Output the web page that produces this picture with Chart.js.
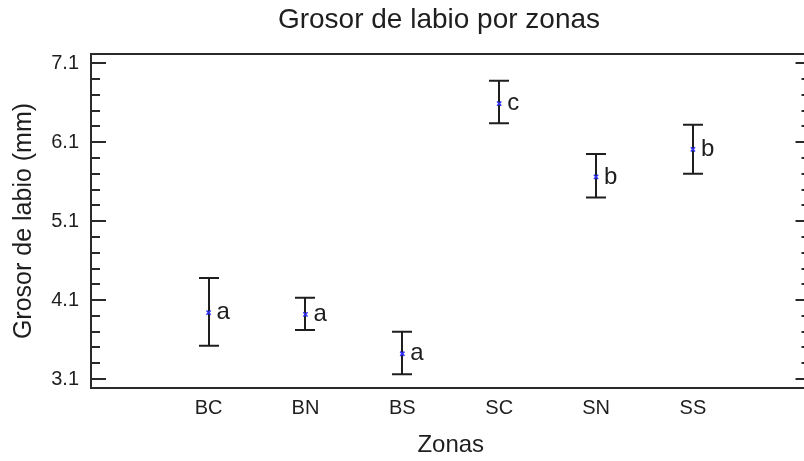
<!DOCTYPE html>
<html>
<head>
<meta charset="utf-8">
<title>Grosor de labio por zonas</title>
<script src="https://cdn.jsdelivr.net/npm/chart.js@4.4.1/dist/chart.umd.min.js"></script>
<style>
  html, body { margin: 0; padding: 0; background: #fff; overflow: hidden; }
  #wrap { width: 804px; height: 461px; overflow: hidden; }
</style>
</head>
<body>
<div id="wrap"><canvas id="chart" width="816" height="461"></canvas></div>
<script>
// Grosor de labio: media e intervalo por zona
const zonas = ['BC', 'BN', 'BS', 'SC', 'SN', 'SS'];
const medias = [3.94, 3.92, 3.42, 6.59, 5.66, 6.01];
const limInf = [3.52, 3.72, 3.16, 6.34, 5.40, 5.70];
const limSup = [4.38, 4.13, 3.70, 6.88, 5.95, 6.32];
const grupos = ['a', 'a', 'a', 'c', 'b', 'b'];
const yTicks = [3.1, 4.1, 5.1, 6.1, 7.1];

const FONT = 'Arial, "Liberation Sans", sans-serif';
const INK = '#1e1e1e';

// title drawn by hand so it can sit where the original has it
const titlePlugin = {
    id: 'tituloManual',
    afterDraw(chart) {
        const ctx = chart.ctx;
        ctx.save();
        ctx.font = '28px ' + FONT;
        ctx.fillStyle = INK;
        ctx.textAlign = 'center';
        ctx.textBaseline = 'alphabetic';
        ctx.fillText('Grosor de labio por zonas', 439, 28);
        ctx.restore();
    }
};

const errorBars = {
    id: 'barrasError',
    beforeDatasetsDraw(chart) {
        const { ctx, scales: { x, y } } = chart;
        ctx.save();
        ctx.strokeStyle = INK;
        ctx.lineWidth = 2;
        zonas.forEach((z, i) => {
            const px = Math.round(x.getPixelForValue(i + 1));
            const top = y.getPixelForValue(limSup[i]);
            const bot = y.getPixelForValue(limInf[i]);
            ctx.beginPath();
            ctx.moveTo(px, top);
            ctx.lineTo(px, bot);
            ctx.moveTo(px - 10, top);
            ctx.lineTo(px + 10, top);
            ctx.moveTo(px - 10, bot);
            ctx.lineTo(px + 10, bot);
            ctx.stroke();
        });
        ctx.restore();
    },
    afterDatasetsDraw(chart) {
        const { ctx, scales: { x, y } } = chart;
        ctx.save();
        ctx.font = '24px ' + FONT;
        ctx.fillStyle = INK;
        ctx.textAlign = 'left';
        ctx.textBaseline = 'middle';
        grupos.forEach((g, i) => {
            ctx.fillText(g, x.getPixelForValue(i + 1) + 8, y.getPixelForValue(medias[i]));
        });
        ctx.restore();
    }
};

// box round the plot with inward ticks on both sides
const framePlugin = {
    id: 'marco',
    afterDraw(chart) {
        const { ctx, chartArea: a, scales: { y } } = chart;
        ctx.save();
        ctx.strokeStyle = '#2a2a2a';
        ctx.lineWidth = 2;
        ctx.strokeRect(a.left, a.top, a.right - a.left, a.bottom - a.top);
        ctx.beginPath();
        for (let k = 0; k <= 20; k++) {
            const v = yTicks[0] + k * 0.2;
            const py = Math.round(y.getPixelForValue(v));
            const len = k % 5 === 0 ? 15 : 9;
            ctx.moveTo(a.left, py);
            ctx.lineTo(a.left + len, py);
            ctx.moveTo(a.right, py);
            ctx.lineTo(a.right - len, py);
        }
        ctx.stroke();
        ctx.restore();
    }
};

const ctx = document.getElementById('chart').getContext('2d');
new Chart(ctx, {
    type: 'scatter',
    data: {
        datasets: [{
            data: medias.map((m, i) => ({ x: i + 1, y: m })),
            pointStyle: 'crossRot',
            pointRadius: 3,
            borderColor: '#2f2fff',
            backgroundColor: '#2f2fff',
            borderWidth: 1.5,
            showLine: false
        }]
    },
    options: {
        responsive: false,
        animation: false,
        layout: {
            padding: { top: 54, left: 0, right: 3, bottom: 0 }
        },
        plugins: {
            legend: { display: false },
            tooltip: { enabled: false },
            title: { display: false }
        },
        scales: {
            x: {
                type: 'linear',
                min: -0.214,
                max: 7.214,
                offset: false,
                afterBuildTicks: scale => {
                    scale.ticks = zonas.map((z, i) => ({ value: i + 1 }));
                },
                afterFit: scale => { scale.height = 73; },
                ticks: {
                    autoSkip: false,
                    maxRotation: 0,
                    padding: 8,
                    color: INK,
                    font: { family: FONT, size: 20 },
                    callback: v => zonas[Math.round(v) - 1]
                },
                grid: { display: false, drawTicks: false },
                border: { display: false },
                title: {
                    display: true,
                    text: 'Zonas',
                    color: INK,
                    font: { family: FONT, size: 24 },
                    padding: { top: 0, bottom: 1 }
                }
            },
            y: {
                min: 2.986,
                max: 7.218,
                afterBuildTicks: scale => {
                    scale.ticks = yTicks.map(v => ({ value: v }));
                },
                afterFit: scale => { scale.width = 91; },
                ticks: {
                    padding: 12,
                    color: INK,
                    font: { family: FONT, size: 20 },
                    callback: v => v.toFixed(1)
                },
                grid: { display: false, drawTicks: false },
                border: { display: false },
                title: {
                    display: true,
                    text: 'Grosor de labio (mm)',
                    color: INK,
                    font: { family: FONT, size: 25 },
                    padding: { top: 9, bottom: 0 }
                }
            }
        }
    },
    plugins: [errorBars, framePlugin, titlePlugin]
});
</script>
</body>
</html>
